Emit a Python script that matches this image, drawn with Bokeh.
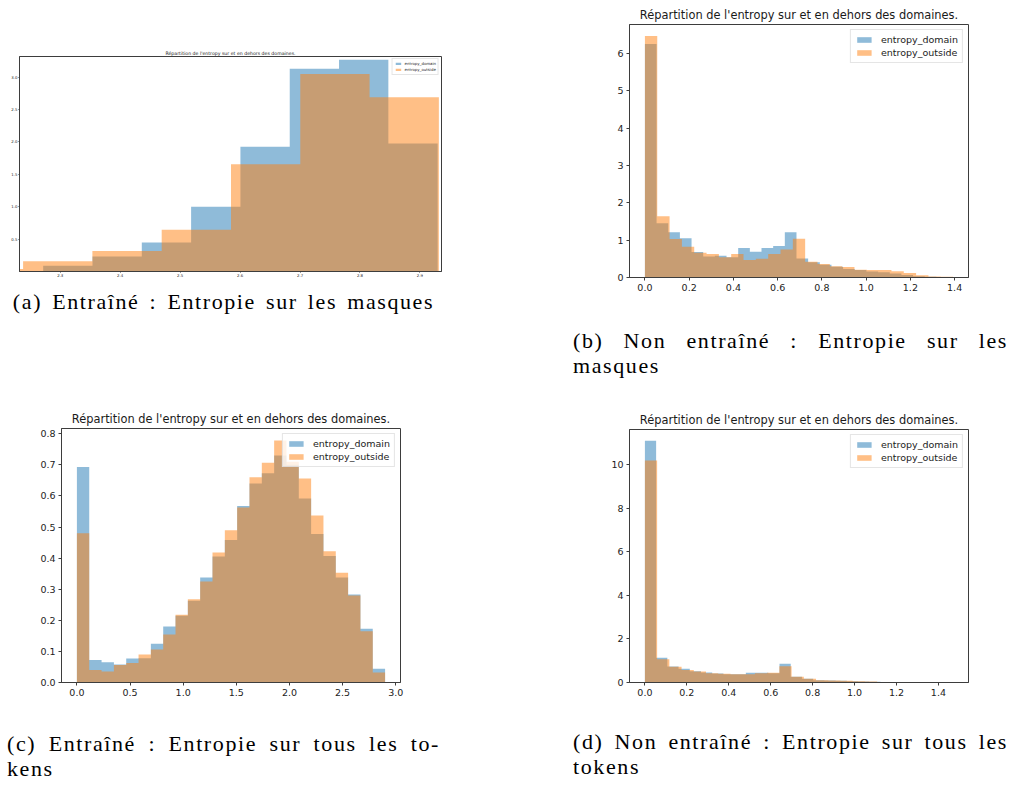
import numpy as np
from bokeh.plotting import figure
from bokeh.models import Div, Range1d, FixedTicker, NumeralTickFormatter, Legend, LegendItem
from bokeh.layouts import column, row
from bokeh.embed import file_html
from bokeh.resources import INLINE

TITLE = "Répartition de l'entropy sur et en dehors des domaines."
LABELS = ["entropy_domain", "entropy_outside"]
C_DOMAIN = "#1f77b4"
C_OUTSIDE = "#ff7f0e"

# ---------------- data ----------------
# (a) trained, masks (zoomed view)
a_domain_range = (2.2715, 2.9296)
a_domain = [0.089, 0.233, 0.448, 1.00, 1.925, 3.13, 3.27, 1.977]
a_outside_range = (2.1224, 2.9316)
a_outside = [0.038, 0.16, 0.315, 0.643, 1.658, 3.05, 2.69]
a_xticks = [2.3, 2.4, 2.5, 2.6, 2.7, 2.8, 2.9]
a_yticks = [0.5, 1.0, 1.5, 2.0, 2.5, 3.0]

# (b) untrained, masks
b_domain_range = (0.0, 1.3175)
b_domain = [6.25, 1.45, 1.21, 1.05, 0.68, 0.56, 0.58, 0.54, 0.79, 0.69, 0.79, 0.84, 1.21,
            0.51, 0.41, 0.34, 0.29, 0.23, 0.20, 0.16, 0.14, 0.11, 0.07, 0.035, 0.02]
b_outside_range = (0.0, 1.393)
b_outside = [6.46, 1.64, 1.03, 0.82, 0.66, 0.63, 0.54, 0.63, 0.47, 0.50, 0.63, 0.75, 1.04,
             0.42, 0.36, 0.30, 0.28, 0.21, 0.20, 0.20, 0.17, 0.12, 0.06, 0.03, 0.02]
b_xticks = [0.0, 0.2, 0.4, 0.6, 0.8, 1.0, 1.2, 1.4]
b_yticks = [0, 1, 2, 3, 4, 5, 6]

# (c) trained, all tokens
c_domain_range = (0.0, 2.9)
c_domain = [0.693, 0.072, 0.065, 0.058, 0.077, 0.078, 0.125, 0.180, 0.215, 0.263, 0.338, 0.405,
            0.458, 0.568, 0.640, 0.673, 0.730, 0.700, 0.592, 0.478, 0.407, 0.338, 0.283, 0.173, 0.044]
c_outside_range = (0.0, 2.9)
c_outside = [0.480, 0.040, 0.035, 0.056, 0.063, 0.090, 0.106, 0.154, 0.218, 0.268, 0.325, 0.418,
             0.490, 0.563, 0.660, 0.707, 0.778, 0.710, 0.656, 0.537, 0.422, 0.353, 0.280, 0.165, 0.032]
c_xticks = [0.0, 0.5, 1.0, 1.5, 2.0, 2.5, 3.0]
c_yticks = [0.0, 0.1, 0.2, 0.3, 0.4, 0.5, 0.6, 0.7, 0.8]

# (d) untrained, all tokens
d_domain_range = (0.0, 1.3375)
d_domain = [11.1, 1.135, 0.736, 0.63, 0.52, 0.46, 0.414, 0.383, 0.383, 0.445, 0.445, 0.43, 0.86,
            0.26, 0.17, 0.107, 0.09, 0.077, 0.06, 0.046, 0.03, 0.01, 0.005, 0.003, 0.002]
d_outside_range = (0.0, 1.4575)
d_outside = [10.2, 1.07, 0.72, 0.57, 0.506, 0.43, 0.40, 0.383, 0.383, 0.43, 0.445, 0.75, 0.26,
             0.17, 0.107, 0.09, 0.077, 0.06, 0.046, 0.01, 0.005, 0.003, 0.002, 0.001, 0.001]
d_xticks = [0.0, 0.2, 0.4, 0.6, 0.8, 1.0, 1.2, 1.4]
d_yticks = [0, 2, 4, 6, 8, 10]

captions = {
    "a": ["(a) Entraîné : Entropie sur les masques"],
    "b": ["(b) Non entraîné : Entropie sur les", "masques"],
    "c": ["(c) Entraîné : Entropie sur tous les to-", "kens"],
    "d": ["(d) Non entraîné : Entropie sur tous les", "tokens"],
}


def hist_fig(w, h, mb, xr, yr, dom, dom_rng, out, out_rng, xticks, yticks, xfmt, yfmt, s, tstand):
    p = figure(width=w, height=h, x_range=Range1d(*xr), y_range=Range1d(*yr),
               output_backend="svg", toolbar_location=None,
               min_border_left=mb[0], min_border_right=mb[1],
               min_border_top=mb[2], min_border_bottom=mb[3])
    p.title.text = TITLE
    p.title.align = "center"
    p.title.text_font = "DejaVu Sans"
    p.title.text_font_size = f"{11.4 * s:.2f}px"
    p.title.text_font_style = "normal"
    p.title.text_color = "#1a1a1a"
    p.title.standoff = tstand
    p.grid.visible = False
    p.outline_line_color = "#3d3d3d"
    p.outline_line_width = 1
    p.background_fill_color = "white"
    p.border_fill_color = "white"

    e1 = np.linspace(dom_rng[0], dom_rng[1], len(dom) + 1)
    r1 = p.varea_step(x=e1, y1=np.zeros(len(e1)), y2=list(dom) + [dom[-1]], step_mode="after",
                      fill_color=C_DOMAIN, fill_alpha=0.5)
    e2 = np.linspace(out_rng[0], out_rng[1], len(out) + 1)
    r2 = p.varea_step(x=e2, y1=np.zeros(len(e2)), y2=list(out) + [out[-1]], step_mode="after",
                      fill_color=C_OUTSIDE, fill_alpha=0.5)

    for ax, ticks, fmt in ((p.xaxis[0], xticks, xfmt), (p.yaxis[0], yticks, yfmt)):
        ax.ticker = FixedTicker(ticks=ticks)
        ax.formatter = NumeralTickFormatter(format=fmt)
        ax.minor_tick_line_color = None
        ax.major_tick_out = max(1, int(round(3.3 * s)))
        ax.major_tick_in = 0
        ax.major_tick_line_color = "#3d3d3d"
        ax.axis_line_color = "#3d3d3d"
        ax.major_label_text_font = "DejaVu Sans"
        ax.major_label_text_font_size = f"{9.5 * s:.2f}px"
        ax.major_label_text_color = "#222222"
        ax.major_label_standoff = max(1, int(round(3.3 * s)))

    leg = Legend(items=[LegendItem(label=LABELS[0], renderers=[r1]),
                        LegendItem(label=LABELS[1], renderers=[r2])],
                 location="top_right")
    leg.label_text_font = "DejaVu Sans"
    leg.label_text_font_size = f"{9.5 * s:.2f}px"
    leg.label_text_color = "#222222"
    leg.glyph_width = int(round(18 * s))
    leg.glyph_height = max(3, int(round(7 * s)))
    leg.label_height = int(round(11 * s))
    leg.label_standoff = int(round(8 * s))
    leg.padding = int(round(4 * s))
    leg.spacing = max(1, int(round(2 * s)))
    leg.margin = int(round(5 * s))
    leg.border_line_color = "#cccccc"
    leg.background_fill_alpha = 0.8
    p.add_layout(leg)
    return p


def caption(lines, w, h, left, inner_w, pad_top, center=False):
    font = ("font-family:'Liberation Serif',serif;font-size:22px;line-height:25px;color:#000;"
            "letter-spacing:1.6px;word-spacing:3px;")
    html = f'<div style="{font}padding-top:{pad_top}px;margin-left:{left}px;width:{inner_w}px;">'
    if center:
        html += f'<div style="text-align:center;white-space:nowrap;">{lines[0]}</div>'
    else:
        html += (f'<div style="text-align:justify;text-align-last:justify;white-space:nowrap;">'
                 f'{lines[0]}</div>')
        html += f'<div style="text-align:left;white-space:nowrap;">{lines[1]}</div>'
    html += '</div>'
    return Div(text=html, width=w, height=h, styles={"margin": "0", "padding": "0", "overflow": "hidden"})


fa = hist_fig(560, 286, (19, 119, 56, 15), (2.232, 2.936), (0.0, 3.32),
              a_domain, a_domain_range, a_outside, a_outside_range,
              a_xticks, a_yticks, "0.0", "0.0", 0.41, 2)
fb = hist_fig(453, 300, (69, 45, 24, 23), (-0.0697, 1.4627), (0.0, 6.77),
              b_domain, b_domain_range, b_outside, b_outside_range,
              b_xticks, b_yticks, "0.0", "0", 1.0, 6)
fc = hist_fig(560, 378, (61, 160, 106, 18), (-0.145, 3.045), (0.0, 0.817),
              c_domain, c_domain_range, c_outside, c_outside_range,
              c_xticks, c_yticks, "0.0", "0.0", 1.0, 5)
fd = hist_fig(453, 320, (69, 45, 49, 18), (-0.0735, 1.5435), (0.0, 11.62),
              d_domain, d_domain_range, d_outside, d_outside_range,
              d_xticks, d_yticks, "0.0", "0", 1.0, 6)

ca = caption(captions["a"], 560, 36, 7, 433, 3, center=True)
cb = caption(captions["b"], 453, 80, 13, 435, 28)
cc = caption(captions["c"], 560, 84, 7, 433, 31)
cd = caption(captions["d"], 453, 84, 13, 435, 29)

left = column(column(fa, ca), column(fc, cc))
right = column(column(fb, cb), column(fd, cd))
layout = row(left, right)

open("out.html", "w").write(file_html(layout, INLINE))
